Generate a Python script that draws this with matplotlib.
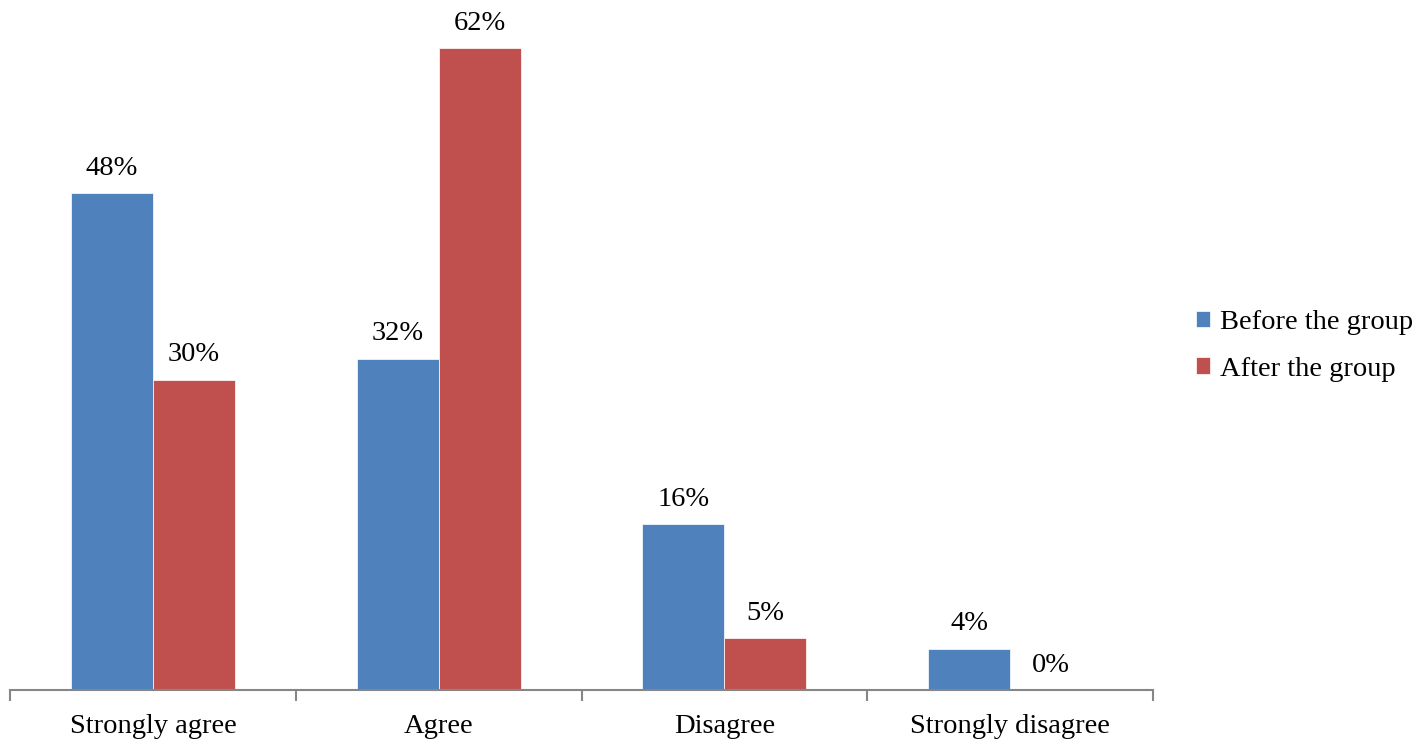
import matplotlib
matplotlib.use("Agg")
import matplotlib.pyplot as plt
import numpy as np

categories = ["Strongly agree", "Agree", "Disagree", "Strongly disagree"]
before = [48, 32, 16, 4]
after = [30, 62, 5, 0]
series_names = ["Before the group", "After the group"]
colors = ["#4F81BD", "#C0504D"]

plt.rcParams['font.family'] = ['Liberation Serif', 'DejaVu Serif']

W, H = 1416, 741
FS = 20.5
fig = plt.figure(figsize=(W / 100, H / 100), dpi=100)
ax = fig.add_axes([10 / W, (H - 690) / H, (1153 - 10) / W, 690 / H])

x = np.arange(len(categories))
bw = 82 / 286
b1 = ax.bar(x - bw / 2, before, bw, color=colors[0], label=series_names[0],
            edgecolor="white", linewidth=0.5)
b2 = ax.bar(x + bw / 2, after, bw, color=colors[1], label=series_names[1],
            edgecolor="white", linewidth=0.5)

for bars in (b1, b2):
    for rect in bars:
        v = rect.get_height()
        ax.annotate(f"{v:g}%", (rect.get_x() + rect.get_width() / 2, v),
                    xytext=(0, 9), textcoords="offset points",
                    ha="center", va="bottom", fontsize=FS)

ax.set_xlim(-0.5, len(categories) - 0.5)
ax.set_ylim(0, 690 / 10.35)
for s in ["top", "right", "left"]:
    ax.spines[s].set_visible(False)
ax.spines["bottom"].set_color("#868686")
ax.spines["bottom"].set_linewidth(1.5)
ax.set_yticks([])
ax.set_xticks(np.arange(len(categories) + 1) - 0.5, minor=False)
ax.set_xticklabels([])
ax.tick_params(axis="x", which="major", length=8, color="#868686", width=1.5)
ax.set_xticks(x, minor=True)
ax.set_xticklabels(categories, minor=True, fontsize=FS)
ax.tick_params(axis="x", which="minor", length=0, pad=17)

fig.legend(handles=[b1, b2], labels=series_names, loc="center left",
           bbox_to_anchor=(1196 / W, 1 - 346 / H), frameon=False,
           fontsize=FS, handlelength=0.5, handleheight=0.5,
           handletextpad=0.35, labelspacing=0.75, borderpad=0,
           borderaxespad=0)

fig.savefig("out.png", dpi=100)
